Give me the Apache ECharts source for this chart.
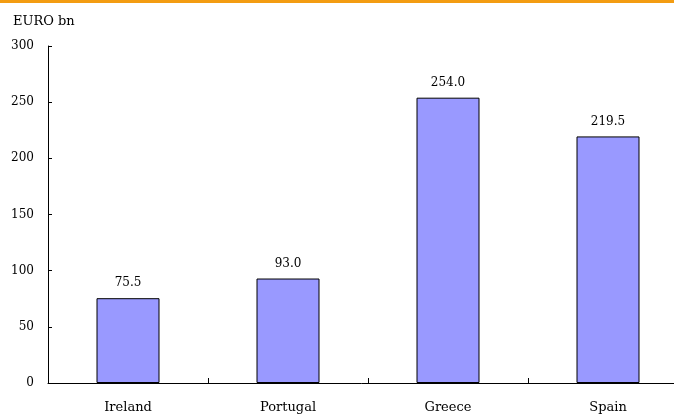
<!DOCTYPE html>
<html>
<head>
    <meta charset="utf-8">
    <title>EURO bn</title>
    <script src="https://cdn.jsdelivr.net/npm/echarts@6.0.0/dist/echarts.min.js"></script>
    <style>
        body { margin: 0; background: #fff; }
        #main { width: 674px; height: 414px; }
    </style>
</head>
<body>
    <div id="main"></div>
<script>
// 数据
const countries = ['Ireland', 'Portugal', 'Greece', 'Spain'];
const amounts = [75.5, 93.0, 254.0, 219.5];
const yTicks = [0, 50, 100, 150, 200, 250, 300];

const font = '"DejaVu Serif", "Liberation Serif", serif';

const option = {
    animation: false,
    textStyle: { fontFamily: font },
    graphic: [
        { type: 'rect', shape: { x: 0, y: 0, width: 674, height: 3 }, style: { fill: '#f39c12' } },
        { type: 'text', left: 13, top: 15, style: { text: 'EURO bn', font: '13px ' + font, fill: '#000' } }
    ],
    grid: { left: 48, top: 46, bottom: 31, width: 640, outerBoundsMode: 'none', containLabel: false },
    xAxis: {
        type: 'category',
        data: countries,
        axisLine: { lineStyle: { color: '#000', width: 1 } },
        axisTick: { show: true, inside: true, length: 5, lineStyle: { color: '#000' } },
        axisLabel: { color: '#000', fontSize: 13, margin: 18, fontFamily: font }
    },
    yAxis: {
        type: 'value',
        min: yTicks[0],
        max: yTicks[yTicks.length - 1],
        interval: 50,
        axisLine: { show: true, lineStyle: { color: '#000', width: 1 } },
        axisTick: { show: true, inside: true, length: 4, lineStyle: { color: '#000' } },
        axisLabel: { color: '#000', fontSize: 12, margin: 14, fontFamily: font },
        splitLine: { show: false }
    },
    series: [{
        type: 'bar',
        data: amounts,
        barWidth: 63,
        itemStyle: { color: '#9999ff', borderColor: '#000', borderWidth: 1 },
        label: {
            show: true,
            position: 'top',
            distance: 9,
            color: '#000',
            fontSize: 12,
            fontFamily: font,
            formatter: p => p.value.toFixed(1)
        }
    }]
};

const chart = echarts.init(document.getElementById('main'));
chart.setOption(option);
</script>
</body>
</html>
